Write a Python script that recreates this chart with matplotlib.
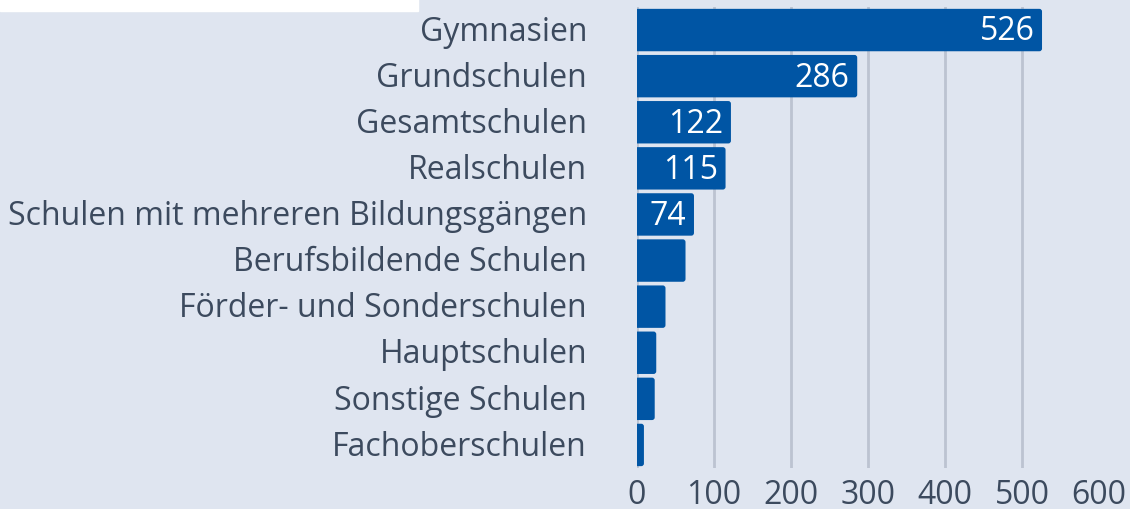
import matplotlib
matplotlib.use("Agg")
import matplotlib.pyplot as plt
from matplotlib.patches import Rectangle, FancyBboxPatch

# data
schools = ["Gymnasien", "Grundschulen", "Gesamtschulen", "Realschulen",
           "Schulen mit mehreren Bildungsgängen", "Berufsbildende Schulen",
           "Förder- und Sonderschulen", "Hauptschulen", "Sonstige Schulen",
           "Fachoberschulen"]
counts = [526, 286, 122, 115, 74, 63, 37, 25, 23, 9]
shown = [True, True, True, True, True, False, False, False, False, False]
xticks = [0, 100, 200, 300, 400, 500, 600]

bg = "#dfe5f0"
bar_col = "#0055a4"
text_col = "#3c4a5e"
grid_col = "#bcc3d1"

plt.rcParams["font.family"] = ["Open Sans", "DejaVu Sans"]

fig = plt.figure(figsize=(11.3, 5.1), dpi=100, facecolor=bg)
fig.patches.append(Rectangle((0, 1 - 12 / 510), 418 / 1130, 12 / 510,
                             transform=fig.transFigure, color="white", zorder=0))
ax = fig.add_axes([637 / 1130, 1 - 469 / 510, 462 / 1130, 461 / 510])
ax.set_facecolor(bg)

y = list(range(len(schools)))
h = 0.92
for yi, v in zip(y, counts):
    p = FancyBboxPatch((-6, yi - h / 2), v + 6, h,
                       boxstyle="round,pad=0,rounding_size=3.5",
                       mutation_aspect=0.0167, facecolor=bar_col,
                       edgecolor="none", zorder=3)
    ax.add_patch(p)
for yi, v, s in zip(y, counts, shown):
    if s:
        ax.text(v - 10, yi + 0.02, str(v), color="white", fontsize=23,
                ha="right", va="center", zorder=4)

ax.set_xlim(0, 600)
ax.set_ylim(len(schools) - 0.5, -0.5)
ax.set_xticks(xticks)
ax.set_xticklabels([str(t) for t in xticks])
ax.set_yticks([yi - 0.06 for yi in y])
ax.set_yticklabels(schools)
ax.tick_params(axis="both", length=0, labelsize=23, labelcolor=text_col)
ax.tick_params(axis="y", pad=36)
ax.tick_params(axis="x", pad=7)
for t in xticks[:-1]:
    ax.axvline(t, color=grid_col, linewidth=2, zorder=1)
for sp in ax.spines.values():
    sp.set_visible(False)

fig.savefig("out.png", dpi=100, facecolor=bg)
